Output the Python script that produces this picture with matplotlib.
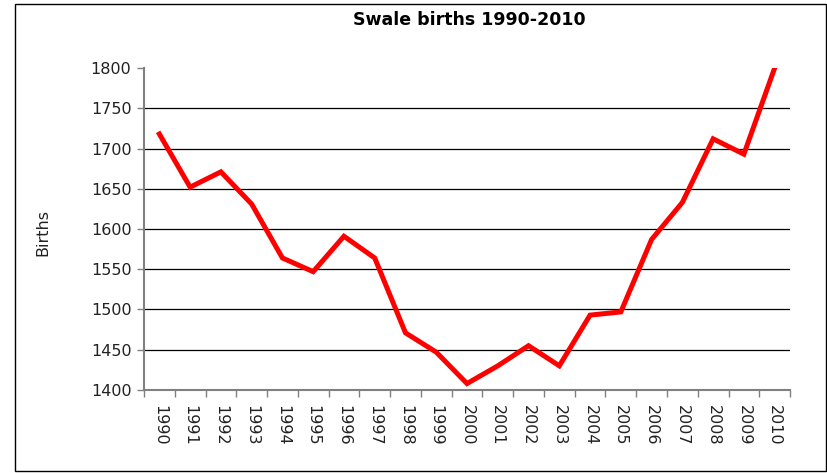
import matplotlib
matplotlib.use("Agg")
import matplotlib.pyplot as plt
from matplotlib.patches import Rectangle

years = [str(y) for y in range(1990, 2011)]
births = [1718, 1652, 1671, 1631, 1564, 1547, 1591, 1564, 1471, 1447,
          1408, 1430, 1455, 1430, 1493, 1497, 1587, 1633, 1712, 1693, 1800]
y_ticks = [1400, 1450, 1500, 1550, 1600, 1650, 1700, 1750, 1800]

plt.rcParams["font.family"] = ["DejaVu Sans"]

fig = plt.figure(figsize=(8.27, 4.73), dpi=100)
fig.patch.set_facecolor("white")

# outer chart border
fig.patches.append(Rectangle((15 / 827, 1 - 471 / 473), 811 / 827, 467 / 473,
                             transform=fig.transFigure, fill=False,
                             edgecolor="black", linewidth=1))

ax = fig.add_axes([0.1741, 0.1755, 0.7812, 0.6807])
x = list(range(len(years)))
ax.plot(x, births, color="#ff0000", linewidth=3.6, solid_joinstyle="miter", zorder=3)

ax.set_xlim(-0.5, len(years) - 0.5)
ax.set_ylim(y_ticks[0], y_ticks[-1])

# gridlines only between the ends
ax.hlines(y_ticks[1:-1], -0.5, len(years) - 0.5, colors="black", linewidth=0.9, zorder=1)

ax.set_yticks(y_ticks)
ax.set_yticklabels([str(v) for v in y_ticks], fontsize=11.5, color="#222222")
ax.tick_params(axis="y", length=5, width=1, color="#808080", pad=4)

ax.set_xticks(x)
ax.set_xticklabels(years, rotation=-90, fontsize=11.5, color="#222222", va="top")
ax.tick_params(axis="x", which="major", length=0, pad=11)
ax.set_xticks([i - 0.5 for i in range(len(years) + 1)], minor=True)
ax.tick_params(axis="x", which="minor", length=5, width=1, color="#808080")

for side in ("top", "right"):
    ax.spines[side].set_visible(False)
for side in ("left", "bottom"):
    ax.spines[side].set_color("#808080")
    ax.spines[side].set_linewidth(1.5)

fig.text(0.568, 0.958, "Swale births 1990-2010", ha="center", va="center",
         fontsize=12.5, fontweight="bold", color="black")
fig.text(43 / 827, 1 - 233 / 473, "Births", rotation=90, ha="center", va="center",
         fontsize=11.5, color="#222222")

fig.savefig("out.png", dpi=100, facecolor="white")
